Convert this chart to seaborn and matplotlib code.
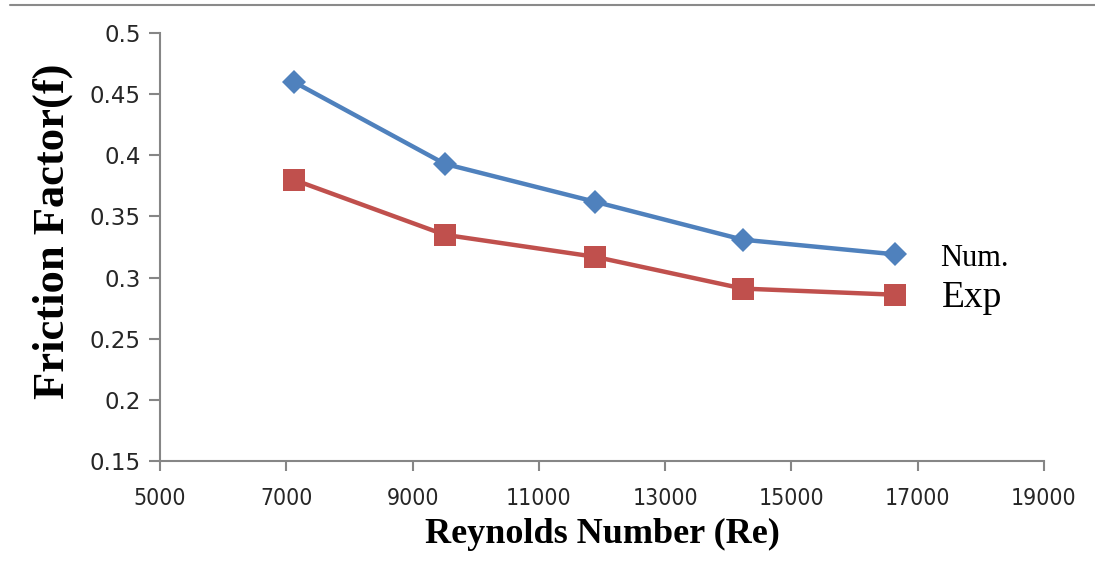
import numpy as np
import pandas as pd
import matplotlib
matplotlib.use("Agg")
import matplotlib.pyplot as plt
from matplotlib.lines import Line2D
import seaborn as sns

# data
reynolds = [7120, 9510, 11890, 14230, 16640]
f_num = [0.460, 0.393, 0.362, 0.331, 0.319]
f_exp = [0.380, 0.335, 0.317, 0.291, 0.286]
series = ["Num.", "Exp"]
xticks = [5000, 7000, 9000, 11000, 13000, 15000, 17000, 19000]
yticks = [0.15, 0.2, 0.25, 0.3, 0.35, 0.4, 0.45, 0.5]

df = pd.DataFrame({
    "Re": reynolds * 2,
    "f": f_num + f_exp,
    "series": [series[0]] * len(reynolds) + [series[1]] * len(reynolds),
})

sns.set_style("white")
plt.rcParams["font.family"] = ["DejaVu Sans"]
plt.rcParams["text.color"] = "black"

fig = plt.figure(figsize=(10.95, 5.81), dpi=100)
ax = fig.add_axes([0.1461, 0.2065, 0.8073, 0.7367])

palette = {"Num.": "#4F81BD", "Exp": "#C0504D"}
sns.lineplot(data=df, x="Re", y="f", hue="series", style="series",
             palette=palette, markers={"Num.": "D", "Exp": "s"},
             dashes=False, linewidth=3.2, legend=False, ax=ax,
             markeredgewidth=0)
for line in ax.lines:
    if line.get_marker() == "D":
        line.set_markersize(12)
    else:
        line.set_markersize(16)

ax.set_xlim(5000, 19000)
ax.set_ylim(0.15, 0.5)
ax.set_xticks(xticks)
ax.set_yticks(yticks)
ax.set_yticklabels([f"{v:g}" for v in yticks], fontsize=16.5, color="#262626")
ax.set_xticklabels([str(v) for v in xticks], fontsize=16.5, color="#262626",
                   family=["DejaVu Sans"], fontstretch="condensed")

for s in ["top", "right"]:
    ax.spines[s].set_visible(False)
for s in ["left", "bottom"]:
    ax.spines[s].set_color("#868686")
    ax.spines[s].set_linewidth(1.5)
ax.tick_params(axis="both", direction="out", color="#868686", width=1.5,
               bottom=True, left=True)
ax.tick_params(axis="y", length=8, pad=6)
ax.tick_params(axis="x", length=7, pad=12)

ax.set_xlabel("Reynolds Number (Re)", fontsize=26, fontweight="bold",
              family="Liberation Serif", color="black")
ax.set_ylabel("Friction Factor(f)", fontsize=32, fontweight="bold",
              family="Liberation Serif", color="black")
ax.xaxis.set_label_coords(0.5, -0.132)
ax.yaxis.set_label_coords(-0.098, 0.537)

# series labels next to the lines' ends
fig.text(940 / 1095, 1 - 259 / 581, "Num.", fontsize=22,
         family="Liberation Serif", va="center", ha="left")
fig.text(942 / 1095, 1 - 298 / 581, "Exp", fontsize=27,
         family="Liberation Serif", va="center", ha="left")

# thin frame line at the top of the picture
fig.add_artist(Line2D([10 / 1095, 1.0], [1 - 5 / 581, 1 - 5 / 581],
                      color="#8a8a8a", linewidth=1.5))

fig.savefig("out.png", dpi=100)
